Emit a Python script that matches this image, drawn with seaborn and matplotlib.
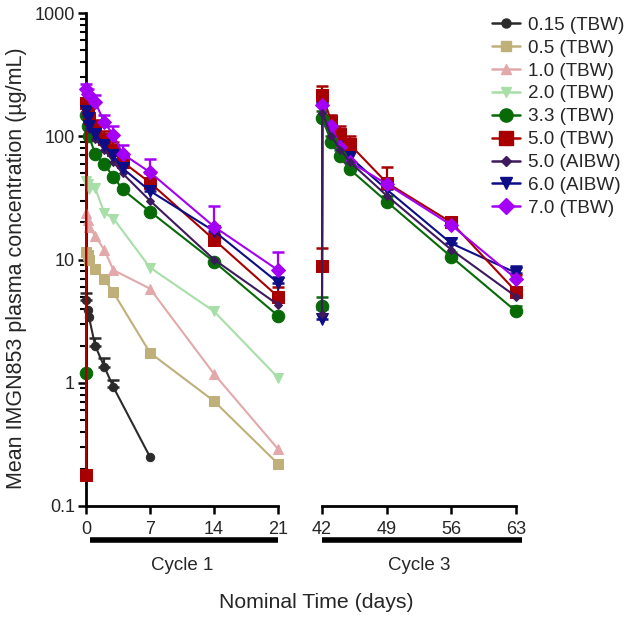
import numpy as np
import pandas as pd
import matplotlib
matplotlib.use("Agg")
import matplotlib.pyplot as plt
from matplotlib.lines import Line2D
import seaborn as sns

sns.set_theme(style="ticks")
plt.rcParams['font.family'] = ['Liberation Sans', 'DejaVu Sans']

nan = np.nan

# ---------------- data ----------------
t_cycle1 = [0, 0.04, 0.17, 0.33, 1, 2, 3, 4, 7, 14, 21]
t_cycle3 = [42, 42.04, 43, 44, 45, 49, 56, 63]

doses = ["0.15 (TBW)", "0.5 (TBW)", "1.0 (TBW)", "2.0 (TBW)", "3.3 (TBW)",
         "5.0 (TBW)", "5.0 (AIBW)", "6.0 (AIBW)", "7.0 (TBW)"]

# cycle 1 mean concentrations (ug/mL)
c1_d015 = [nan, 4.7, 3.9, 3.4, 2.0, 1.35, 0.92, nan, 0.25, nan, nan]
c1_d05 = [nan, 11.5, 10.8, 10.0, 8.3, 6.9, 5.4, nan, 1.75, 0.71, 0.22]
c1_d10 = [nan, 24, 21, 18.5, 15.5, 12, 8.2, nan, 5.8, 1.18, 0.29]
c1_d20 = [nan, 43, 41, 37, 38, 24, 21.5, nan, 8.6, 3.8, 1.1]
c1_d33 = [1.2, 148, 122, 100, 72, 59, 47, 37, 24.5, 9.6, 3.5]
c1_d50 = [0.18, 185, 165, 140, 120, 95, 78, 62, 42, 14.5, 5.0]
c1_d50a = [nan, 150, 130, 115, 95, 78, 62, 50, 30, 10, 4.3]
c1_d60a = [nan, 160, 140, 120, 105, 85, 70, 55, 36, 17, 6.5]
c1_d70 = [nan, 240, 220, nan, 190, 130, 102, 72, 51, 18.5, 8.2]

# cycle 3 mean concentrations (ug/mL)
c3_d33 = [4.2, 140, 90, 69, 54, 29.5, 10.5, 3.8]
c3_d50 = [8.8, 215, 132, 104, 86, 42, 20, 5.5]
c3_d50a = [3.6, 155, 100, 78, 62, 33, 12, 5.0]
c3_d60a = [3.3, 170, 110, 85, 68, 37, 13.5, 7.8]
c3_d70 = [nan, 180, 120, 82, 62, 41, 19, 7.0]

# upper error-bar ends (mean + SD), where visible
e1_d015 = [nan, 5.3, nan, nan, 2.3, 1.6, 1.05, nan, nan, nan, nan]
e1_d50 = [nan, 205, nan, nan, 135, 110, 90, 72, 50, 16.5, 6.0]
e1_d60a = [nan, nan, nan, nan, nan, nan, nan, nan, 40, 18.5, 7.2]
e1_d70 = [nan, 265, 240, nan, 215, 150, 120, 85, 65, 27, 11.5]
e3_d33 = [5.0, 160, 100, 78, 62, 33, 11.5, 4.2]
e3_d50 = [12.5, 255, 150, 120, 100, 56, 22, 7.5]
e3_d60a = [4.0, nan, nan, nan, nan, 42, 15, 8.8]

cycle1 = [c1_d015, c1_d05, c1_d10, c1_d20, c1_d33, c1_d50, c1_d50a, c1_d60a, c1_d70]
cycle3 = [None, None, None, None, c3_d33, c3_d50, c3_d50a, c3_d60a, c3_d70]
err1 = {0: e1_d015, 5: e1_d50, 7: e1_d60a, 8: e1_d70}
err3 = {4: e3_d33, 5: e3_d50, 7: e3_d60a}

colors = ["#2b2b2b", "#bfb07a", "#e3a9aa", "#a8dea8", "#076a07",
          "#a80000", "#3d1a5c", "#0d0d88", "#a400f5"]
markers = ["o", "s", "^", "v", "o", "s", "D", "v", "D"]
msizes = [6, 7, 7, 7, 9, 9, 4.5, 8.5, 7.5]
# drawing order in cycle 3 (dark lines on top of the pre-dose vertical)
z3 = {4: 3.9, 5: 3.5, 6: 3.95, 7: 3.4, 8: 3.6}

rows = []
for i, d in enumerate(doses):
    for t, v in zip(t_cycle1, cycle1[i]):
        rows.append(dict(dose=d, cycle=1, time=t, conc=v))
    if cycle3[i] is not None:
        for t, v in zip(t_cycle3, cycle3[i]):
            rows.append(dict(dose=d, cycle=3, time=t, conc=v))
df = pd.DataFrame(rows).dropna()

# ---------------- figure ----------------
W, H = 630, 618
fig = plt.figure(figsize=(W / 100, H / 100), dpi=100)
y_top, y_bot = 13, 506
ax1 = fig.add_axes([86 / W, 1 - y_bot / H, 192 / W, (y_bot - y_top) / H])
ax2 = fig.add_axes([322 / W, 1 - y_bot / H, 194 / W, (y_bot - y_top) / H], sharey=ax1)

for ax, cyc, errs, tgrid in ((ax1, 1, err1, t_cycle1), (ax2, 3, err3, t_cycle3)):
    for i, d in enumerate(doses):
        sub = df[(df.dose == d) & (df.cycle == cyc)]
        if sub.empty:
            continue
        z = 3 + i * 0.1 if cyc == 1 else z3[i]
        if i in errs:
            vals = cycle1[i] if cyc == 1 else cycle3[i]
            e = errs[i]
            for t, v, up in zip(tgrid, vals, e):
                if np.isnan(v) or np.isnan(up):
                    continue
                ax.errorbar([t], [v], yerr=[[0], [up - v]], fmt="none",
                            ecolor=colors[i], elinewidth=1.6, capsize=4,
                            capthick=1.8, clip_on=False, zorder=z - 1)
        sns.lineplot(data=sub, x="time", y="conc", ax=ax, color=colors[i],
                     marker=markers[i], markersize=msizes[i],
                     markeredgecolor=colors[i], linewidth=1.5,
                     estimator=None, errorbar=None, legend=False,
                     clip_on=False, zorder=z)

for ax in (ax1, ax2):
    ax.set_yscale("log")
    ax.set_ylim(0.1, 1000)
    ax.set_xlabel("")
    ax.set_ylabel("")
    for s in ("top", "right"):
        ax.spines[s].set_visible(False)
    for s in ("left", "bottom"):
        ax.spines[s].set_linewidth(2)
        ax.spines[s].set_color("black")
    ax.tick_params(axis="both", which="major", length=6, width=1.8,
                   labelsize=13, color="black", direction="out")
    ax.tick_params(axis="y", which="minor", length=4, width=1.5, color="black")
    ax.tick_params(axis="x", which="major", pad=5)
    ax.tick_params(axis="y", which="major", pad=2)

ax1.set_xlim(0, 21)
ax1.set_xticks([0, 7, 14, 21])
ax1.set_yticks([0.1, 1, 10, 100, 1000])
ax1.set_yticklabels(["0.1", "1", "10", "100", "1000"])
ax2.set_xlim(42, 63)
ax2.set_xticks([42, 49, 56, 63])
ax2.spines["left"].set_visible(False)
ax2.tick_params(axis="y", which="both", left=False, labelleft=False)

# cycle bars and labels
bar_y = -(540 - y_bot) / (y_bot - y_top)
lab_y = -(566 - y_bot) / (y_bot - y_top)
ax1.plot([0.02, 1.0], [bar_y, bar_y], transform=ax1.transAxes, color="black",
         lw=4, clip_on=False, solid_capstyle="butt")
ax2.plot([0.0, 1.03], [bar_y, bar_y], transform=ax2.transAxes, color="black",
         lw=4, clip_on=False, solid_capstyle="butt")
ax1.text(0.5, lab_y, "Cycle 1", transform=ax1.transAxes, ha="center",
         va="center", fontsize=13.5)
ax2.text(0.5, lab_y, "Cycle 3", transform=ax2.transAxes, ha="center",
         va="center", fontsize=13.5)

fig.text(316 / W, 1 - 603 / H, "Nominal Time (days)", ha="center",
         va="center", fontsize=15.3)
fig.text(17 / W, 1 - 268 / H, "Mean IMGN853 plasma concentration (\u00b5g/mL)",
         ha="center", va="center", rotation=90, fontsize=15.5)

handles = [Line2D([0], [0], color=colors[i], marker=markers[i],
                  markersize=msizes[i] + 0.5, markeredgecolor=colors[i], lw=1.8)
           for i in range(len(doses))]
fig.legend(handles, doses, loc="upper left",
           bbox_to_anchor=(484 / W, 1 - 9 / H), frameon=False,
           fontsize=13.6, handlelength=1.5, handletextpad=0.45,
           labelspacing=0.3, borderaxespad=0)

fig.savefig("out.png", dpi=100)
